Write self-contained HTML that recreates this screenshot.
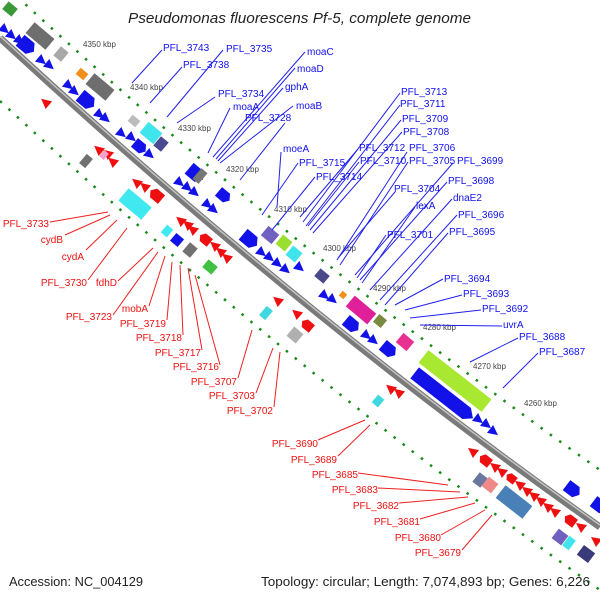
<!DOCTYPE html>
<html><head><meta charset="utf-8"><style>
html,body{margin:0;padding:0;background:#fff;}
svg{display:block;}
text{font-family:"Liberation Sans","DejaVu Sans",sans-serif;}
.b{fill:#1010ee;font-size:10px;}
.r{fill:#ee1010;font-size:10px;}
.k{fill:#444;font-size:8px;}
.lb line{stroke:#2020ee;stroke-width:1;}
.lr line{stroke:#ee2020;stroke-width:1;}
</style></head><body>
<svg width="600" height="600" viewBox="0 0 600 600" xmlns="http://www.w3.org/2000/svg">
<defs>
<polygon id="tri" points="-5,-5 5,0 -5,5"/>
<polygon id="arr" points="-9,-7 4,-7 9,0 4,7 -9,7"/>
</defs>
<path d="M0,38 Q300,315.5 600,527" transform="translate(0,-57)" fill="none" stroke="#1a8a1a" stroke-width="2.5" stroke-dasharray="2.5 9"/>
<path d="M0,38 Q300,315.5 600,527" transform="translate(0,63)" fill="none" stroke="#1a8a1a" stroke-width="2.5" stroke-dasharray="2.5 9"/>
<path d="M0,38 Q300,315.5 600,527" fill="none" stroke="#7a7a7a" stroke-width="7"/>
<path d="M0,36 Q300,313.5 600,525" fill="none" stroke="#c4c4c4" stroke-width="1.5"/>

<g fill="#1212e8">
<use href="#tri" transform="translate(5,30) rotate(40)"/>
<use href="#tri" transform="translate(12,36) rotate(40)"/>
<use href="#tri" transform="translate(20,41) rotate(40)"/>
<use href="#arr" transform="translate(27,46) rotate(40)"/>
<use href="#tri" transform="translate(42,61) rotate(40)"/>
<use href="#tri" transform="translate(50,66) rotate(40)"/>
<use href="#tri" transform="translate(69,86) rotate(40)"/>
<use href="#tri" transform="translate(75,92) rotate(40)"/>
<use href="#arr" transform="translate(87,101) rotate(40)"/>
<use href="#tri" transform="translate(100,115) rotate(40)"/>
<use href="#tri" transform="translate(106,119) rotate(40)"/>
<use href="#tri" transform="translate(122,134) rotate(40)"/>
<use href="#tri" transform="translate(132,138) rotate(40)"/>
<use href="#arr" transform="translate(140,147) rotate(40) scale(0.8)"/>
<use href="#tri" transform="translate(150,155) rotate(40)"/>
<use href="#arr" transform="translate(196,174) rotate(40)"/>
<use href="#tri" transform="translate(180,183) rotate(40)"/>
<use href="#tri" transform="translate(188,188) rotate(40)"/>
<use href="#tri" transform="translate(195,193) rotate(40)"/>
<use href="#arr" transform="translate(224,196) rotate(40) scale(0.8)"/>
<use href="#tri" transform="translate(208,205) rotate(40)"/>
<use href="#tri" transform="translate(214,210) rotate(40)"/>
<use href="#arr" transform="translate(250,240) rotate(40)"/>
<use href="#tri" transform="translate(262,253) rotate(40)"/>
<use href="#tri" transform="translate(270,258) rotate(40)"/>
<use href="#tri" transform="translate(278,264) rotate(40)"/>
<use href="#tri" transform="translate(286,270) rotate(40)"/>
<use href="#tri" transform="translate(300,268) rotate(40)"/>
<use href="#tri" transform="translate(325,296) rotate(40)"/>
<use href="#tri" transform="translate(333,300) rotate(40)"/>
<use href="#arr" transform="translate(352,325) rotate(40) scale(0.9)"/>
<use href="#tri" transform="translate(367,336) rotate(40)"/>
<use href="#tri" transform="translate(374,341) rotate(40)"/>
<use href="#arr" transform="translate(389,350) rotate(40) scale(0.9)"/>
<polygon points="-36,-7 30,-7 38,0 30,7 -36,7" transform="translate(443,395) rotate(38)"/>
<use href="#tri" transform="translate(479,420) rotate(38)"/>
<use href="#tri" transform="translate(487,425) rotate(38)"/>
<use href="#tri" transform="translate(494,432) rotate(38)"/>
<use href="#arr" transform="translate(573,490) rotate(37) scale(0.9)"/>
<use href="#arr" transform="translate(600,506) rotate(37) scale(0.9)"/>
</g>
<g>
<rect x="-6" y="-5" width="12" height="10" fill="#3a9a3a" transform="translate(10,9) rotate(40)"/>
<rect x="-13" y="-7" width="26" height="14" fill="#6e6e6e" transform="translate(40,36) rotate(40)"/>
<rect x="-5" y="-6" width="10" height="12" fill="#a8a8a8" transform="translate(61,54) rotate(40)"/>
<rect x="-5" y="-4" width="10" height="8" fill="#f0901a" transform="translate(82,74) rotate(40)"/>
<rect x="-13" y="-7" width="26" height="14" fill="#6e6e6e" transform="translate(100,87) rotate(40)"/>
<rect x="-5" y="-4" width="10" height="8" fill="#bbbbbb" transform="translate(134,121) rotate(40)"/>
<rect x="-9" y="-7" width="18" height="14" fill="#40e4ec" transform="translate(151,133) rotate(40)"/>
<rect x="-5" y="-6" width="10" height="12" fill="#4a4a90" transform="translate(161,144) rotate(40)"/>
<rect x="-4" y="-7" width="8" height="14" fill="#777" transform="translate(200,176) rotate(40)"/>
<rect x="-7" y="-6" width="14" height="12" fill="#7060c0" transform="translate(270,235) rotate(40)"/>
<rect x="-6" y="-6" width="12" height="12" fill="#9adf30" transform="translate(284,243) rotate(40)"/>
<rect x="-6" y="-6" width="12" height="12" fill="#40e4ec" transform="translate(294,254) rotate(40)"/>
<rect x="-6" y="-5" width="12" height="10" fill="#4a4a8a" transform="translate(322,276) rotate(40)"/>
<rect x="-3" y="-3" width="6" height="6" fill="#f0901a" transform="translate(343,295) rotate(40)"/>
<rect x="-14" y="-7" width="28" height="14" fill="#e0209a" transform="translate(361,310) rotate(40)"/>
<rect x="-5" y="-5" width="10" height="10" fill="#7a8a40" transform="translate(380,321) rotate(40)"/>
<rect x="-7" y="-6" width="14" height="12" fill="#e83090" transform="translate(405,342) rotate(40)"/>
<rect x="-40" y="-8" width="80" height="16" fill="#a8e830" transform="translate(455,381) rotate(38)"/>
</g>

<g fill="#ee1010">
<use href="#tri" transform="translate(45,102) rotate(220)"/>
<use href="#tri" transform="translate(98,149) rotate(220)"/>
<use href="#tri" transform="translate(107,153) rotate(220)"/>
<use href="#tri" transform="translate(112,161) rotate(220)"/>
<use href="#tri" transform="translate(136,182) rotate(220)"/>
<use href="#tri" transform="translate(144,186) rotate(220)"/>
<use href="#arr" transform="translate(156,195) rotate(220) scale(0.8)"/>
<use href="#tri" transform="translate(180,220) rotate(220)"/>
<use href="#tri" transform="translate(187,224) rotate(220)"/>
<use href="#tri" transform="translate(192,229) rotate(220)"/>
<use href="#arr" transform="translate(205,239) rotate(220) scale(0.7)"/>
<use href="#tri" transform="translate(214,245) rotate(220)"/>
<use href="#tri" transform="translate(220,251) rotate(220)"/>
<use href="#tri" transform="translate(226,257) rotate(220)"/>
<use href="#tri" transform="translate(277,300) rotate(220)"/>
<use href="#tri" transform="translate(296,313) rotate(220)"/>
<use href="#arr" transform="translate(307,325) rotate(220) scale(0.7)"/>
<use href="#tri" transform="translate(390,388) rotate(220)"/>
<use href="#tri" transform="translate(398,392) rotate(220)"/>
<use href="#tri" transform="translate(472,451) rotate(218)"/>
<use href="#arr" transform="translate(485,460) rotate(218) scale(0.7)"/>
<use href="#tri" transform="translate(494,466) rotate(218)"/>
<use href="#tri" transform="translate(501,471) rotate(218)"/>
<use href="#arr" transform="translate(511,478) rotate(218) scale(0.6)"/>
<use href="#tri" transform="translate(519,484) rotate(218)"/>
<use href="#tri" transform="translate(526,490) rotate(218)"/>
<use href="#tri" transform="translate(533,495) rotate(218)"/>
<use href="#tri" transform="translate(540,500) rotate(218)"/>
<use href="#tri" transform="translate(547,506) rotate(218)"/>
<use href="#tri" transform="translate(554,511) rotate(218)"/>
<use href="#arr" transform="translate(570,520) rotate(217) scale(0.7)"/>
<use href="#tri" transform="translate(580,526) rotate(217)"/>
<use href="#tri" transform="translate(595,540) rotate(217)"/>
</g>
<g>
<rect x="-3" y="-4" width="6" height="8" fill="#f4a0c8" transform="translate(104,155) rotate(40)"/>
<rect x="-4" y="-6" width="8" height="12" fill="#707070" transform="translate(86,161) rotate(40)"/>
<rect x="-15" y="-8" width="30" height="16" fill="#40e8f0" transform="translate(135,204) rotate(40)"/>
<rect x="-4" y="-5" width="8" height="10" fill="#40e8f0" transform="translate(167,231) rotate(40)"/>
<rect x="-5" y="-5" width="10" height="10" fill="#1212e8" transform="translate(177,240) rotate(40)"/>
<rect x="-5" y="-6" width="10" height="12" fill="#707070" transform="translate(190,250) rotate(40)"/>
<rect x="-6" y="-5" width="12" height="10" fill="#40c040" transform="translate(210,267) rotate(40)"/>
<rect x="-4" y="-6" width="8" height="12" fill="#40d8e0" transform="translate(266,313) rotate(40)"/>
<rect x="-6" y="-6" width="12" height="12" fill="#b0b0b0" transform="translate(295,335) rotate(40)"/>
<rect x="-4" y="-5" width="8" height="10" fill="#40d8e0" transform="translate(378,401) rotate(40)"/>
<rect x="-5" y="-6" width="10" height="12" fill="#6a78a0" transform="translate(480,480) rotate(38)"/>
<rect x="-6" y="-6" width="12" height="12" fill="#f08888" transform="translate(490,485) rotate(38)"/>
<rect x="-17" y="-8" width="34" height="16" fill="#4a80b8" transform="translate(514,502) rotate(38)"/>
<rect x="-6" y="-6" width="12" height="12" fill="#7060c0" transform="translate(560,537) rotate(37)"/>
<rect x="-4" y="-6" width="8" height="12" fill="#40e4ec" transform="translate(569,543) rotate(37)"/>
<rect x="-7" y="-6" width="14" height="12" fill="#3a3a7a" transform="translate(586,554) rotate(37)"/>
</g>

<g class="k">
<text x="83" y="47">4350 kbp</text>
<text x="130" y="90">4340 kbp</text>
<text x="178" y="131">4330 kbp</text>
<text x="226" y="172">4320 kbp</text>
<text x="274" y="212">4310 kbp</text>
<text x="323" y="251">4300 kbp</text>
<text x="373" y="291">4290 kbp</text>
<text x="423" y="330">4280 kbp</text>
<text x="473" y="369">4270 kbp</text>
<text x="524" y="406">4260 kbp</text>
</g>

<g class="lb">
<line x1="162" y1="50" x2="132" y2="83"/>
<line x1="223" y1="50" x2="167" y2="117"/>
<line x1="182" y1="67" x2="150" y2="103"/>
<line x1="215" y1="97" x2="177" y2="123"/>
<line x1="230" y1="108" x2="208" y2="153"/>
<line x1="305" y1="52" x2="213" y2="157"/>
<line x1="295" y1="68" x2="216" y2="159"/>
<line x1="283" y1="88" x2="218" y2="161"/>
<line x1="293" y1="106" x2="220" y2="163"/>
<line x1="285" y1="123" x2="240" y2="180"/>
<line x1="281" y1="152" x2="277" y2="207"/>
<line x1="298" y1="163" x2="262" y2="215"/>
<line x1="315" y1="177" x2="272" y2="230"/>
<line x1="400" y1="93" x2="303" y2="222"/>
<line x1="400" y1="105" x2="306" y2="226"/>
<line x1="401" y1="120" x2="310" y2="230"/>
<line x1="402" y1="132" x2="313" y2="233"/>
<line x1="358" y1="149" x2="300" y2="217"/>
<line x1="359" y1="162" x2="308" y2="226"/>
<line x1="407" y1="152" x2="337" y2="260"/>
<line x1="408" y1="162" x2="340" y2="265"/>
<line x1="453" y1="163" x2="355" y2="275"/>
<line x1="395" y1="192" x2="338" y2="258"/>
<line x1="447" y1="182" x2="360" y2="280"/>
<line x1="415" y1="207" x2="362" y2="283"/>
<line x1="452" y1="199" x2="370" y2="290"/>
<line x1="457" y1="215" x2="380" y2="300"/>
<line x1="386" y1="235" x2="357" y2="278"/>
<line x1="448" y1="233" x2="385" y2="305"/>
<line x1="443" y1="279" x2="395" y2="305"/>
<line x1="462" y1="295" x2="405" y2="310"/>
<line x1="481" y1="310" x2="410" y2="318"/>
<line x1="502" y1="326" x2="420" y2="325"/>
<line x1="518" y1="338" x2="470" y2="362"/>
<line x1="538" y1="353" x2="503" y2="388"/>
</g>
<g class="b">
<text x="163" y="51">PFL_3743</text>
<text x="226" y="52">PFL_3735</text>
<text x="183" y="68">PFL_3738</text>
<text x="218" y="97">PFL_3734</text>
<text x="233" y="110">moaA</text>
<text x="245" y="121">PFL_3728</text>
<text x="307" y="55">moaC</text>
<text x="297" y="72">moaD</text>
<text x="285" y="90">gphA</text>
<text x="296" y="109">moaB</text>
<text x="283" y="152">moeA</text>
<text x="299" y="166">PFL_3715</text>
<text x="316" y="180">PFL_3714</text>
<text x="401" y="95">PFL_3713</text>
<text x="400" y="107">PFL_3711</text>
<text x="402" y="122">PFL_3709</text>
<text x="403" y="135">PFL_3708</text>
<text x="359" y="151">PFL_3712</text>
<text x="409" y="151">PFL_3706</text>
<text x="360" y="164">PFL_3710</text>
<text x="409" y="164">PFL_3705</text>
<text x="457" y="164">PFL_3699</text>
<text x="394" y="192">PFL_3704</text>
<text x="448" y="184">PFL_3698</text>
<text x="416" y="209">lexA</text>
<text x="453" y="201">dnaE2</text>
<text x="458" y="218">PFL_3696</text>
<text x="387" y="238">PFL_3701</text>
<text x="449" y="235">PFL_3695</text>
<text x="444" y="282">PFL_3694</text>
<text x="463" y="297">PFL_3693</text>
<text x="482" y="312">PFL_3692</text>
<text x="503" y="328">uvrA</text>
<text x="519" y="340">PFL_3688</text>
<text x="539" y="355">PFL_3687</text>
</g>

<g class="lr">
<line x1="50" y1="222" x2="108" y2="212"/>
<line x1="65" y1="235" x2="110" y2="215"/>
<line x1="86" y1="250" x2="117" y2="220"/>
<line x1="88" y1="280" x2="127" y2="228"/>
<line x1="118" y1="281" x2="153" y2="248"/>
<line x1="113" y1="315" x2="158" y2="252"/>
<line x1="149" y1="306" x2="165" y2="256"/>
<line x1="167" y1="320" x2="172" y2="262"/>
<line x1="183" y1="335" x2="180" y2="265"/>
<line x1="202" y1="350" x2="188" y2="268"/>
<line x1="220" y1="365" x2="195" y2="275"/>
<line x1="238" y1="378" x2="252" y2="330"/>
<line x1="256" y1="393" x2="273" y2="348"/>
<line x1="274" y1="407" x2="280" y2="352"/>
<line x1="318" y1="440" x2="365" y2="420"/>
<line x1="338" y1="456" x2="370" y2="425"/>
<line x1="358" y1="473" x2="448" y2="485"/>
<line x1="378" y1="488" x2="460" y2="492"/>
<line x1="399" y1="503" x2="468" y2="497"/>
<line x1="420" y1="519" x2="475" y2="503"/>
<line x1="441" y1="535" x2="485" y2="510"/>
<line x1="462" y1="550" x2="492" y2="515"/>
</g>
<g class="r" text-anchor="end">
<text x="49" y="227">PFL_3733</text>
<text x="63" y="243">cydB</text>
<text x="84" y="260">cydA</text>
<text x="87" y="286">PFL_3730</text>
<text x="117" y="286">fdhD</text>
<text x="112" y="320">PFL_3723</text>
<text x="148" y="312">mobA</text>
<text x="166" y="327">PFL_3719</text>
<text x="182" y="341">PFL_3718</text>
<text x="201" y="356">PFL_3717</text>
<text x="219" y="370">PFL_3716</text>
<text x="237" y="385">PFL_3707</text>
<text x="255" y="399">PFL_3703</text>
<text x="273" y="414">PFL_3702</text>
<text x="318" y="447">PFL_3690</text>
<text x="337" y="463">PFL_3689</text>
<text x="358" y="478">PFL_3685</text>
<text x="378" y="493">PFL_3683</text>
<text x="399" y="509">PFL_3682</text>
<text x="420" y="525">PFL_3681</text>
<text x="441" y="541">PFL_3680</text>
<text x="461" y="556">PFL_3679</text>
</g>

<text x="128" y="23" font-size="15" font-style="italic" fill="#222" textLength="343" lengthAdjust="spacingAndGlyphs">Pseudomonas fluorescens Pf-5, complete genome</text>
<text x="9" y="586" font-size="13" fill="#222" textLength="134" lengthAdjust="spacingAndGlyphs">Accession: NC_004129</text>
<text x="261" y="586" font-size="13" fill="#222" textLength="329" lengthAdjust="spacingAndGlyphs">Topology: circular; Length: 7,074,893 bp; Genes: 6,226</text>
</svg>
</body></html>
